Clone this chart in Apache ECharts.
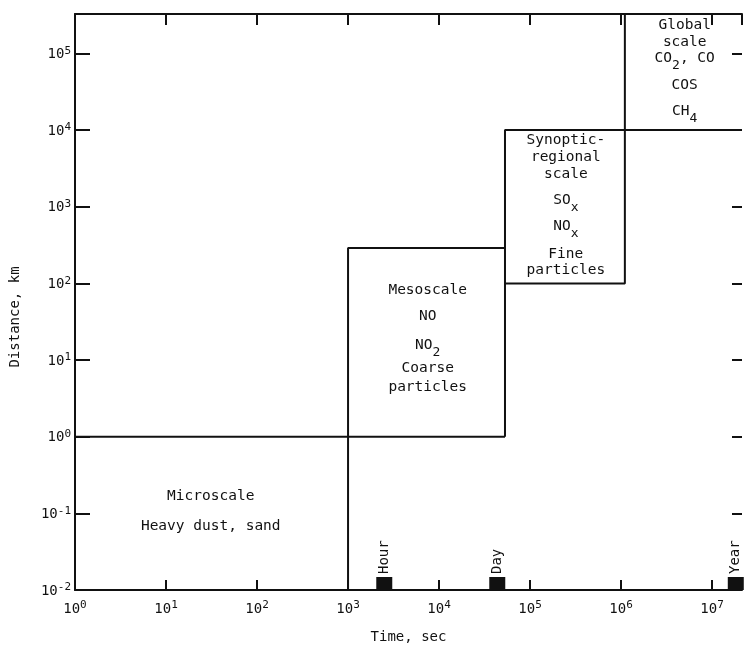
<!DOCTYPE html>
<html>
<head>
<meta charset="utf-8">
<title>Scales of atmospheric transport</title>
<script src="https://cdn.jsdelivr.net/npm/echarts@6/dist/echarts.min.js"></script>
<style>
  html, body { margin: 0; padding: 0; background: #fff; }
  #chart { width: 745px; height: 651px; }
</style>
</head>
<body>
<div id="chart"></div>
<script>
// axis ranges (time in s, distance in km)
const timeRange = [1, 2.13e7]
const distRange = [0.01, 3.27e5]

// scale boundaries, as polylines of [time, distance]
const microscaleTop = [[1, 1], [5.3e4, 1]]
const mesoscaleEdge = [[1e3, 0.01], [1e3, 290], [5.3e4, 290]]
const synopticLeftTop = [[5.3e4, 1], [5.3e4, 1e4], [2.13e7, 1e4]]
const synopticBottomRight = [[5.3e4, 100], [1.1e6, 100], [1.1e6, 3.27e5]]

// text inside the regions: [time, distance, text]  (_x marks a subscript)
const regionLabels = [
  [31, 0.163, 'Microscale'],
  [31, 0.0664, 'Heavy dust, sand'],
  [7500, 80, 'Mesoscale'],
  [7500, 36.5, 'NO'],
  [7500, 15.3, 'NO_2'],
  [7500, 7.6, 'Coarse'],
  [7500, 4.3, 'particles'],
  [2.47e5, 7200, 'Synoptic-'],
  [2.47e5, 4330, 'regional'],
  [2.47e5, 2600, 'scale'],
  [2.47e5, 1190, 'SO_x'],
  [2.47e5, 545, 'NO_x'],
  [2.47e5, 235, 'Fine'],
  [2.47e5, 145, 'particles'],
  [5.0e6, 2.28e5, 'Global'],
  [5.0e6, 1.37e5, 'scale'],
  [5.0e6, 8.5e4, 'CO_2, CO'],
  [5.0e6, 3.77e4, 'COS'],
  [5.0e6, 1.72e4, 'CH_4']
]

// time markers on the bottom axis
const markerNames = ['Hour', 'Day', 'Year']
const markerTimes = [2500, 4.36e4, 1.82e7]

const ink = '#111'
const mono = 'DejaVu Sans Mono'

const powerLabel = v => {
  const e = Math.log10(v)
  if (Math.abs(e - Math.round(e)) > 1e-6) return ''
  return '{b|10}{s|' + Math.round(e) + '}'
}
const powerRich = {
  b: { fontFamily: mono, fontSize: 14, lineHeight: 16, verticalAlign: 'bottom', color: ink },
  s: { fontFamily: mono, fontSize: 11, lineHeight: 12, padding: [0, 0, 10, 0], verticalAlign: 'top', color: ink }
}

const withSubs = s => ('{t|' + s.replace(/_(\w)/g, '}{sub|$1}{t|') + '}').replace('{t|}', '')

const lineSeries = data => ({
  type: 'line',
  data: data,
  symbol: 'none',
  xAxisIndex: 0,
  yAxisIndex: 0,
  lineStyle: { color: ink, width: 2 },
  silent: true,
  z: 3
})

const chart = echarts.init(document.getElementById('chart'))

chart.setOption({
  backgroundColor: '#fff',
  animation: false,
  grid: { left: 75, right: 0, top: 14, bottom: 61 },
  xAxis: [
    {
      type: 'log',
      min: timeRange[0],
      max: timeRange[1],
      position: 'bottom',
      name: 'Time, sec',
      nameLocation: 'middle',
      nameGap: 40,
      nameTextStyle: { fontFamily: mono, fontSize: 14, color: ink },
      axisLine: { lineStyle: { color: ink, width: 2 } },
      axisTick: { inside: true, length: 10, lineStyle: { color: ink, width: 2 } },
      axisLabel: { formatter: powerLabel, rich: powerRich, margin: 10 },
      splitLine: { show: false },
      minorTick: { show: false }
    },
    {
      type: 'log',
      min: timeRange[0],
      max: timeRange[1],
      position: 'top',
      axisLine: { lineStyle: { color: ink, width: 2 } },
      axisTick: { inside: true, length: 11, lineStyle: { color: ink, width: 2 } },
      axisLabel: { show: false },
      splitLine: { show: false }
    }
  ],
  yAxis: [
    {
      type: 'log',
      min: distRange[0],
      max: distRange[1],
      position: 'left',
      name: 'Distance, km',
      nameLocation: 'middle',
      nameGap: 53,
      nameRotate: 90,
      nameTextStyle: { fontFamily: mono, fontSize: 14, color: ink, padding: [0, 30, 0, 0] },
      axisLine: { lineStyle: { color: ink, width: 2 } },
      axisTick: { inside: true, length: 15, lineStyle: { color: ink, width: 2 } },
      axisLabel: { formatter: powerLabel, rich: powerRich, margin: 4 },
      splitLine: { show: false }
    },
    {
      type: 'log',
      min: distRange[0],
      max: distRange[1],
      position: 'right',
      axisLine: { show: false },
      axisTick: { inside: true, length: 10, lineStyle: { color: ink, width: 2 } },
      axisLabel: { show: false },
      splitLine: { show: false }
    }
  ],
  series: [
    lineSeries(microscaleTop),
    lineSeries(mesoscaleEdge),
    lineSeries(synopticLeftTop),
    lineSeries(synopticBottomRight),
    {
      type: 'scatter',
      xAxisIndex: 0,
      yAxisIndex: 0,
      symbolSize: 0,
      silent: true,
      itemStyle: { opacity: 1 },
      data: regionLabels.map(r => ({ value: [r[0], r[1]], name: r[2] })),
      label: {
        show: true,
        position: 'inside',
        formatter: p => withSubs(p.name),
        rich: {
          t: { fontFamily: mono, fontSize: 14.5, lineHeight: 16, verticalAlign: 'top', color: ink },
          sub: { fontFamily: mono, fontSize: 13, lineHeight: 13, padding: [8, 0, 0, 0], verticalAlign: 'top', color: ink }
        }
      }
    },
    {
      type: 'scatter',
      xAxisIndex: 0,
      yAxisIndex: 0,
      symbol: 'rect',
      symbolSize: [16, 13],
      symbolOffset: [0, -6.5],
      itemStyle: { color: ink, opacity: 1 },
      silent: true,
      data: markerTimes.map((t, i) => ({ value: [t, distRange[0]], name: markerNames[i] })),
      label: {
        show: true,
        position: 'top',
        rotate: 90,
        align: 'left',
        verticalAlign: 'middle',
        distance: 3,
        formatter: p => p.name,
        fontFamily: mono,
        fontSize: 14,
        color: ink
      }
    }
  ]
})
</script>
</body>
</html>
